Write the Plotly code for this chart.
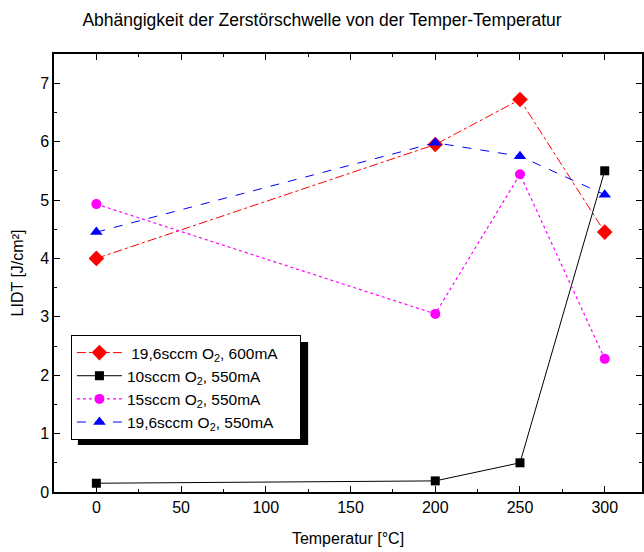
import plotly.graph_objects as go

# Temper temperature in °C
temperatur = [0, 200, 250, 300]

# LIDT values in J/cm² for each coating process
lidt_196_600 = [4.00, 5.95, 6.72, 4.45]
lidt_10_550 = [0.15, 0.19, 0.50, 5.50]
lidt_15_550 = [4.93, 3.05, 5.44, 2.28]
lidt_196_550 = [4.45, 5.98, 5.75, 5.09]

# Legend labels (trailing non-breaking spaces pad the legend box on the right)
PAD = "\u00a0" * 4
names = [
    "\u00a019,6sccm O<sub>2</sub>, 600mA" + PAD,
    "10sccm O<sub>2</sub>, 550mA" + PAD,
    "15sccm O<sub>2</sub>, 550mA" + PAD,
    "19,6sccm O<sub>2</sub>, 550mA" + PAD,
]

FONT = "Liberation Sans, Arial, sans-serif"

fig = go.Figure()

fig.add_trace(go.Scatter(
    x=temperatur, y=lidt_196_600, name=names[0], mode="lines+markers",
    line=dict(color="#ff0000", width=1, dash="dashdot"),
    marker=dict(symbol="diamond", size=12, color="#ff0000"),
))
fig.add_trace(go.Scatter(
    x=temperatur, y=lidt_10_550, name=names[1], mode="lines+markers",
    line=dict(color="#000000", width=1),
    marker=dict(symbol="square", size=9, color="#000000"),
))
fig.add_trace(go.Scatter(
    x=temperatur, y=lidt_15_550, name=names[2], mode="lines+markers",
    line=dict(color="#ff00ff", width=1.2, dash="dot"),
    marker=dict(symbol="circle", size=10, color="#ff00ff"),
))
fig.add_trace(go.Scatter(
    x=temperatur, y=lidt_196_550, name=names[3], mode="lines+markers",
    line=dict(color="#0000ff", width=1, dash="dash"),
    marker=dict(symbol="triangle-up", size=11, color="#0000ff"),
))

axis_common = dict(
    showline=True, linecolor="black", linewidth=1.5, mirror="ticks",
    ticks="inside", ticklen=6, tickwidth=1.2, tickcolor="black",
    showgrid=False, zeroline=False,
    tickfont=dict(family=FONT, size=16, color="black"),
)

fig.update_xaxes(
    range=[-25, 322], tickmode="linear", tick0=0, dtick=50,
    minor=dict(ticks="inside", ticklen=3, dtick=25, tickcolor="black", tickwidth=1),
    title=dict(text="Temperatur [°C]", font=dict(family=FONT, size=16, color="black"), standoff=18),
    **axis_common,
)
fig.update_yaxes(
    range=[0, 7.5], tickmode="linear", tick0=0, dtick=1,
    minor=dict(ticks="inside", ticklen=3, dtick=0.5, tickcolor="black", tickwidth=1),
    title=dict(text="LIDT [J/cm²]", font=dict(family=FONT, size=16, color="black"), standoff=13),
    **axis_common,
)

# Drop shadow behind the legend box
fig.add_shape(
    type="rect", xref="paper", yref="paper",
    x0=(78 - 54) / 590, x1=(309 - 54) / 590,
    y0=(492 - 445) / 438, y1=(492 - 342) / 438,
    fillcolor="black", line=dict(width=0), layer="above",
)

fig.update_layout(
    width=644, height=552,
    margin=dict(l=54, r=0, t=54, b=60),
    paper_bgcolor="white", plot_bgcolor="white",
    font=dict(family=FONT, size=16, color="black"),
    title=dict(
        text="Abhängigkeit der Zerstörschwelle von der Temper-Temperatur",
        x=0.5, xref="container", xanchor="center",
        y=1 - 20 / 552, yref="container", yanchor="middle",
        font=dict(family=FONT, size=17.5, color="black"),
    ),
    legend=dict(
        x=(71 - 54) / 590, y=(492 - 335) / 438, xanchor="left", yanchor="top",
        bgcolor="white", bordercolor="black", borderwidth=1,
        font=dict(family=FONT, size=15.5, color="black"),
        itemsizing="trace", itemwidth=45,
    ),
    showlegend=True,
)

fig.write_html("out.html")
